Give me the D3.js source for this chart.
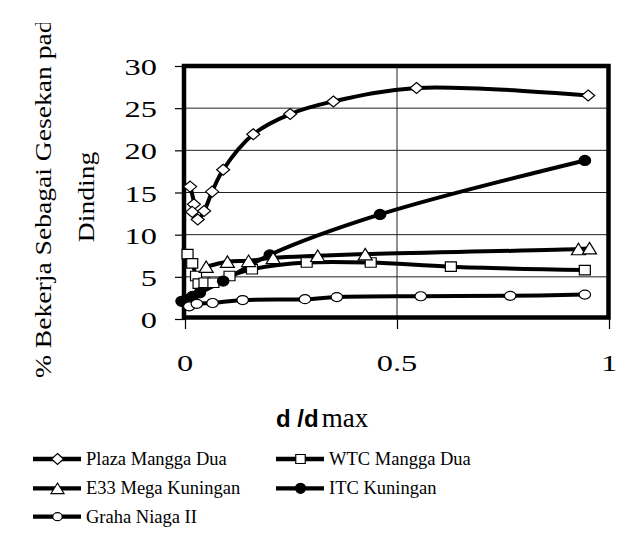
<!DOCTYPE html>
<html>
<head>
<meta charset="utf-8">
<script src="https://cdn.jsdelivr.net/npm/d3@7"></script>
<style>
  html, body { margin: 0; padding: 0; background: #fff; }
  svg { display: block; }
  text { font-family: "Liberation Serif", "Times New Roman", serif; fill: #000; }
</style>
</head>
<body>
<svg id="chart" width="642" height="548"></svg>
<script>
// ---- data (x = d/dmax, y = %) ----
const seriesNames = ["Plaza Mangga Dua", "WTC Mangga Dua", "E33 Mega Kuningan", "ITC Kuningan", "Graha Niaga II"];
const plaza = [[0.012,15.7],[0.021,13.6],[0.017,12.7],[0.03,11.8],[0.045,12.8],[0.064,15.1],[0.09,17.7],[0.161,21.9],[0.248,24.3],[0.35,25.8],[0.546,27.4],[0.951,26.5]];
const wtc   = [[0.006,7.7],[0.017,6.6],[0.026,5.1],[0.032,4.2],[0.046,4.3],[0.067,4.3],[0.105,5.1],[0.158,5.9],[0.287,6.7],[0.438,6.7],[0.627,6.2],[0.943,5.8]];
const e33   = [[0.05,6.2],[0.1,6.8],[0.15,6.9],[0.208,7.25],[0.313,7.5],[0.425,7.7],[0.928,8.3],[0.954,8.4]];
const itc   = [[-0.008,2.1],[0.003,2.3],[0.018,2.7],[0.035,3.1],[0.09,4.5],[0.2,7.6],[0.46,12.4],[0.943,18.8]];
const graha = [[0.01,1.5],[0.028,1.8],[0.065,1.9],[0.136,2.25],[0.283,2.35],[0.358,2.6],[0.556,2.7],[0.767,2.75],[0.943,2.9]];
const xTicks = [0, 0.5, 1];
const yTicks = [0, 5, 10, 15, 20, 25, 30];
const yTitleLines = ["% Bekerja Sebagai Gesekan pada", "Dinding"];

const svg = d3.select("#chart");

const x = d3.scaleLinear().domain([0, 1]).range([185, 609]);
const y = d3.scaleLinear().domain([0, 30]).range([319, 66]);

// gridlines
svg.append("g").selectAll("line").data(yTicks.filter(v => v > 0 && v < 30)).join("line")
  .attr("x1", x(0)).attr("x2", x(1)).attr("y1", d => y(d)).attr("y2", d => y(d))
  .attr("stroke", "#222").attr("stroke-width", 1);
svg.append("line").attr("x1", x(0.5)).attr("x2", x(0.5)).attr("y1", y(30)).attr("y2", y(0))
  .attr("stroke", "#222").attr("stroke-width", 1);

// axes with ticks
const yAxis = d3.axisLeft(y).tickValues(yTicks).tickSize(10).tickFormat("");
const gy = svg.append("g").attr("transform", `translate(${x(0)},0)`).call(yAxis);
gy.select(".domain").remove();
gy.selectAll(".tick line").attr("stroke", "#000").attr("stroke-width", 1.2);

const xAxis = d3.axisBottom(x).tickValues(xTicks).tickSize(10).tickFormat("");
const gx = svg.append("g").attr("transform", `translate(0,${y(0)})`).call(xAxis);
gx.select(".domain").remove();
gx.selectAll(".tick line").attr("stroke", "#000").attr("stroke-width", 1.2);

// tick labels (stretched serif)
svg.append("g").selectAll("text").data(yTicks).join("text")
  .attr("transform", d => `translate(157,${y(d) + 9}) scale(1.35,1)`)
  .attr("text-anchor", "end").attr("font-size", 24).text(d => d);
svg.append("g").selectAll("text").data(xTicks).join("text")
  .attr("transform", d => `translate(${x(d)},371) scale(1.35,1)`)
  .attr("text-anchor", "middle").attr("font-size", 24).text(d => d);

// plot frame
svg.append("rect").attr("x", 184).attr("y", 66).attr("width", 608.5 - 184).attr("height", 317.5 - 66)
  .attr("fill", "none").attr("stroke", "#000").attr("stroke-width", 4.5);

// y title (clipped at top)
svg.append("clipPath").attr("id", "tclip").append("rect").attr("x", 0).attr("y", 23).attr("width", 130).attr("height", 500);
const yt = svg.append("g").attr("clip-path", "url(#tclip)");
yt.append("text").attr("transform", "translate(50.5,378) rotate(-90) scale(1.2,1)")
  .attr("text-anchor", "start").attr("font-size", 23).text(yTitleLines[0]);
yt.append("text").attr("transform", "translate(94.3,197) rotate(-90) scale(1.2,1)")
  .attr("text-anchor", "middle").attr("font-size", 23).text(yTitleLines[1]);

// x title
const xt = svg.append("text").attr("x", 276).attr("y", 426.7);
xt.append("tspan").attr("font-family", "'Liberation Sans', Arial, sans-serif").attr("font-weight", "bold").attr("font-size", 24).text("d /d");
xt.append("tspan").attr("font-size", 27).attr("dx", 3).text("max");

// markers
function markerPath(type, w, h) {
  if (type === "diamond") return `M0,${-h/2}L${w/2},0L0,${h/2}L${-w/2},0Z`;
  if (type === "square") return `M${-w/2},${-h/2}H${w/2}V${h/2}H${-w/2}Z`;
  if (type === "triangle") return `M0,${-h/2}L${w/2},${h/2}L${-w/2},${h/2}Z`;
  return null;
}
const styles = [
  { data: plaza, type: "diamond", w: 13, h: 11, fill: "#fff" },
  { data: wtc, type: "square", w: 11, h: 9.5, fill: "#fff" },
  { data: e33, type: "triangle", w: 14, h: 11.5, fill: "#fff" },
  { data: itc, type: "circle", w: 11.5, h: 10, fill: "#000" },
  { data: graha, type: "circle", w: 11.5, h: 9, fill: "#fff" }
];

const line = d3.line().x(d => x(d[0])).y(d => y(d[1])).curve(d3.curveCatmullRom.alpha(0.5));
const gl = svg.append("g");
styles.forEach(s => {
  gl.append("path").attr("d", line(s.data)).attr("fill", "none").attr("stroke", "#000")
    .attr("stroke-width", 4).attr("stroke-linejoin", "round").attr("stroke-linecap", "round");
});

function drawMarker(g, s, cx, cy, w, h) {
  if (s.type === "circle") {
    g.append("ellipse").attr("cx", cx).attr("cy", cy).attr("rx", w/2).attr("ry", h/2)
      .attr("fill", s.fill).attr("stroke", "#000").attr("stroke-width", 1.2);
  } else {
    g.append("path").attr("d", markerPath(s.type, w, h)).attr("transform", `translate(${cx},${cy})`)
      .attr("fill", s.fill).attr("stroke", "#000").attr("stroke-width", 1.2);
  }
}
const order = [0, 1, 3, 2, 4];
const gm = svg.append("g");
order.forEach(i => {
  const s = styles[i];
  s.data.forEach(d => drawMarker(gm, s, x(d[0]), y(d[1]), s.w, s.h));
});

// legend
const legendPos = [[33, 459], [276, 459], [33, 488.3], [276, 488.3], [33, 516.7]];
const legendMk = [[12, 11], [9.5, 9], [13, 10.5], [10, 10], [9.5, 8]];
const lg = svg.append("g");
seriesNames.forEach((name, i) => {
  const [lx, ly] = legendPos[i];
  const s = styles[i];
  lg.append("line").attr("x1", lx).attr("x2", lx + 48).attr("y1", ly).attr("y2", ly)
    .attr("stroke", "#000").attr("stroke-width", 4.3);
  drawMarker(lg, s, lx + 24.5, ly, legendMk[i][0], legendMk[i][1]);
  lg.append("text").attr("x", lx + 53).attr("y", ly + 6).attr("font-size", 18.5).text(name);
});
</script>
</body>
</html>
